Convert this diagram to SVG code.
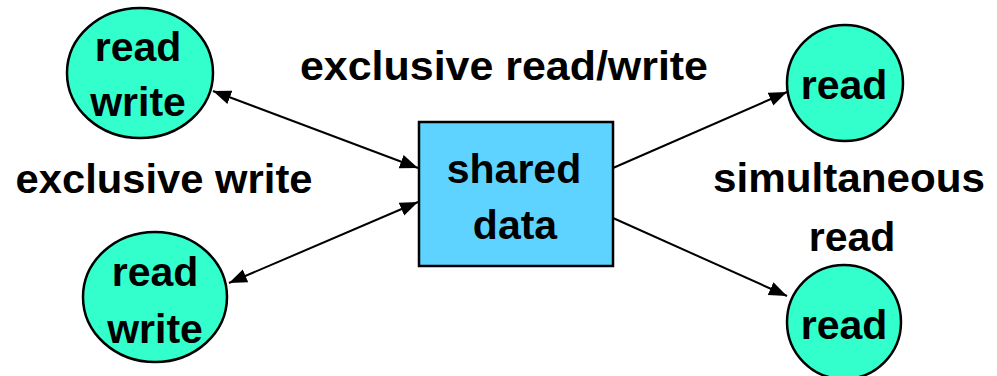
<svg xmlns="http://www.w3.org/2000/svg" width="997" height="376" viewBox="0 0 997 376">
  <style>
    .node-c { fill: #33FFCC; stroke: #000; stroke-width: 2.5; }
    .node-r { fill: #5ED3FF; stroke: #000; stroke-width: 2.5; }
    .t { font-family: "Liberation Sans", Arial, sans-serif; font-weight: bold; font-size: 41px; fill: #000; text-anchor: middle; }
    .edge { stroke: #000; stroke-width: 2; fill: none; }
  </style>
  <defs>
    <marker id="ah" markerUnits="userSpaceOnUse" markerWidth="20" markerHeight="16" refX="18" refY="7" orient="auto-start-reverse">
      <path d="M0,0 L18,7 L0,14 z" fill="#000"/>
    </marker>
  </defs>
  <rect width="997" height="376" fill="#fff"/>

  <g id="connectors">
    <line class="edge" x1="213" y1="91" x2="418" y2="168" marker-start="url(#ah)" marker-end="url(#ah)"/>
    <line class="edge" x1="229" y1="283" x2="418" y2="202" marker-start="url(#ah)" marker-end="url(#ah)"/>
    <line class="edge" x1="613" y1="168" x2="787" y2="92" marker-end="url(#ah)"/>
    <line class="edge" x1="613" y1="218" x2="787" y2="296" marker-end="url(#ah)"/>
  </g>

  <g id="rw-top">
    <ellipse class="node-c" cx="140" cy="73" rx="73" ry="65"/>
    <text class="t" x="138" y="61">read</text>
    <text class="t" x="138" y="116">write</text>
  </g>
  <g id="rw-bottom">
    <ellipse class="node-c" cx="155" cy="297" rx="72" ry="65"/>
    <text class="t" x="155" y="286">read</text>
    <text class="t" x="155" y="343">write</text>
  </g>
  <g id="shared">
    <rect class="node-r" x="419" y="122" width="194" height="144"/>
    <text class="t" x="514" y="183">shared</text>
    <text class="t" x="515" y="239">data</text>
  </g>
  <g id="read-top">
    <circle class="node-c" cx="845" cy="83" r="58"/>
    <text class="t" x="844" y="99">read</text>
  </g>
  <g id="read-bottom">
    <circle class="node-c" cx="844" cy="322" r="57"/>
    <text class="t" x="844" y="339">read</text>
  </g>

  <g id="labels">
    <text class="t" x="504" y="80" textLength="408" lengthAdjust="spacingAndGlyphs">exclusive read/write</text>
    <text class="t" x="164" y="193" textLength="297" lengthAdjust="spacingAndGlyphs">exclusive write</text>
    <text class="t" x="849" y="192" textLength="272" lengthAdjust="spacingAndGlyphs">simultaneous</text>
    <text class="t" x="852" y="251">read</text>
  </g>
</svg>
